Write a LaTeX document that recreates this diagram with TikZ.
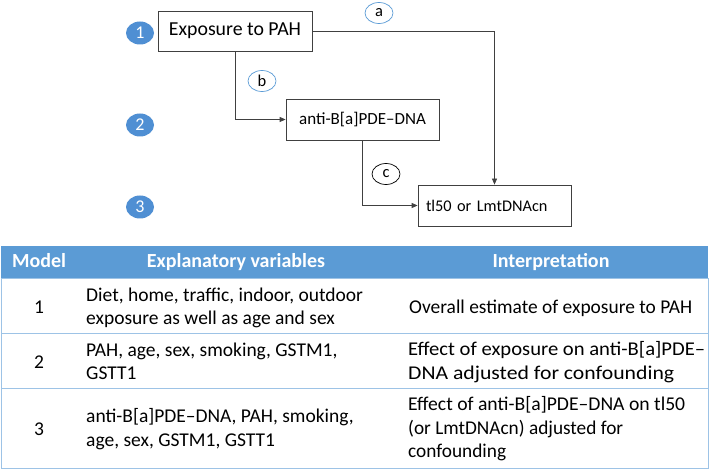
\documentclass[tikz,border=0pt]{standalone}
\usepackage{graphicx}
\usepackage{fontspec}
\setmainfont{Carlito}
\usetikzlibrary{arrows.meta,shapes.geometric}
\definecolor{hdrblue}{HTML}{5B9BD5}
\definecolor{numblue}{HTML}{4F8FD3}
\definecolor{rulblue}{HTML}{9DC3E6}
\definecolor{linegray}{HTML}{404040}
\newcommand\toprl{\rule{0pt}{15pt}}
\newcommand\fitln[2]{\resizebox{#1}{\height}{#2}}
\begin{document}
\begin{tikzpicture}[x=1pt,y=-1pt,
  box/.style={draw=linegray, line width=0.8pt, minimum height=41pt, inner sep=0pt, font=\fontsize{17}{20}\selectfont},
  conn/.style={draw=linegray, line width=0.8pt, -{Triangle[length=6pt,width=5pt]}},
  numdot/.style={ellipse, fill=numblue, text=white, minimum width=28pt, minimum height=23pt, inner sep=0pt, font=\fontsize{18}{21}\selectfont},
  tag/.style={ellipse, draw=hdrblue, line width=0.7pt, minimum width=28pt, minimum height=21pt, inner sep=0pt, font=\fontsize{16.5}{19}\selectfont},
  hdr/.style={text=white, anchor=base, inner sep=0pt, font=\bfseries\fontsize{20}{23.5}\selectfont},
  cell/.style={align=left, anchor=north west, inner sep=0pt, font=\fontsize{19.5}{23.5}\selectfont},
  numcell/.style={anchor=base, inner sep=0pt, font=\fontsize{19.5}{23.5}\selectfont},
  rulel/.style={draw=rulblue, line width=1pt}
]
\useasboundingbox (0,0) rectangle (709,470);
% diagram
\node[box, minimum width=154pt, minimum height=40pt, font=\fontsize{19.8}{22}\selectfont] (b1) at (235,31) {Exposure to PAH};
\node[box, minimum width=153pt] (b2) at (362.5,119.5) {anti-B[a]PDE–DNA};
\node[box, text width=137pt, align=left, inner xsep=8pt, font=\fontsize{16.3}{19}\selectfont] (b3) at (494.5,205.5) {tl50 or LmtDNAcn};
\draw[conn] (b1.east) -| (b3.north);
\draw[conn] (b1.south) |- (b2.west);
\draw[conn] (b2.south) |- (b3.west);
\node[tag] (ta) at (379,13) {a};
\node[tag] (tb) at (262,81) {b};
\node[tag, draw=black] (tc) at (386,174) {c};
\node[numdot] (n1) at (140,33) {1};
\node[numdot] (n2) at (140,125) {2};
\node[numdot] (n3) at (140,207) {3};
% table
\fill[hdrblue] (1,246) rectangle (708,278);
\draw[rulel] (1,278) rectangle (708,468);
\draw[rulel] (1,333) -- (708,333);
\draw[rulel] (1,388) -- (708,388);
\node[hdr] (h1) at (39,268) {Model};
\node[hdr] (h2) at (236,268) {Explanatory variables};
\node[hdr] (h3) at (551,268) {Interpretation};
\node[numcell] (m1) at (39,313) {1};
\node[numcell] (m2) at (39,368) {2};
\node[numcell] (m3) at (39,435) {3};
\node[cell] (v1) at (86,286) {\toprl Diet, home, traffic, indoor, outdoor\\exposure as well as age and sex};
\node[cell] (v2) at (86,341) {\toprl PAH, age, sex, smoking, GSTM1,\\GSTT1};
\node[cell] (v3) at (86,407.5) {\toprl anti-B[a]PDE–DNA, PAH, smoking,\\age, sex, GSTM1, GSTT1};
\node[cell] (i1) at (409,298) {\fitln{283pt}{\toprl Overall estimate of exposure to PAH}};
\node[cell] (i2) at (408,340.5) {\fitln{297pt}{\toprl Effect of exposure on anti-B[a]PDE–}\\\fitln{266pt}{DNA adjusted for confounding}};
\node[cell] (i3) at (408,395.5) {\fitln{277pt}{\toprl Effect of anti-B[a]PDE–DNA on tl50}\\\fitln{215pt}{(or LmtDNAcn) adjusted for}\\\fitln{98pt}{confounding}};
\end{tikzpicture}
\end{document}
